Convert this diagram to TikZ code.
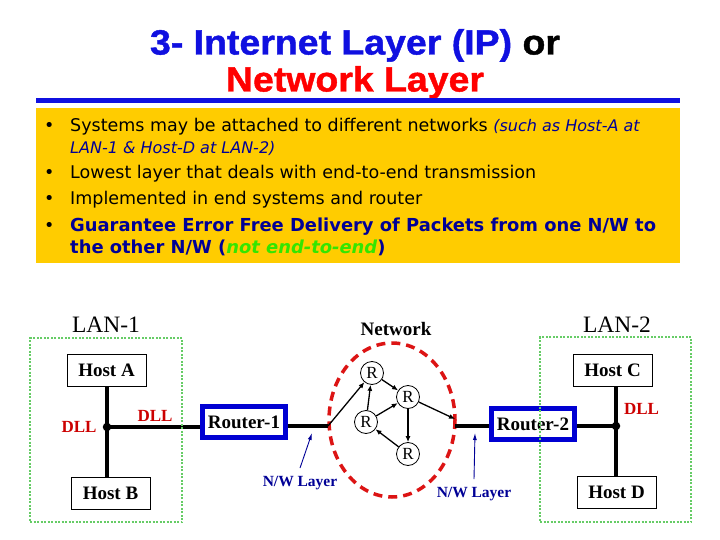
\documentclass[tikz,border=0pt]{standalone}
\usepackage{fontspec}
\setmainfont{Liberation Serif}
\newfontfamily\headfont[FakeBold=1.2, FakeStretch=1.07]{Liberation Sans Bold}
\newfontfamily\slidefont{DejaVu Sans}
\usetikzlibrary{arrows.meta,positioning}

\definecolor{slideyellow}{RGB}{255,204,0}
\definecolor{titleblue}{RGB}{16,16,224}
\definecolor{titlered}{RGB}{255,0,0}
\definecolor{navy}{RGB}{0,0,150}
\definecolor{lime}{RGB}{51,230,0}
\definecolor{dllred}{RGB}{204,0,0}
\definecolor{routerblue}{RGB}{0,0,210}
\definecolor{langreen}{RGB}{102,204,102}
\definecolor{netred}{RGB}{220,20,20}

\begin{document}
\begin{tikzpicture}[
    x=1pt, y=-1pt,
    >=Latex,
    headline/.style={font=\headfont\fontsize{35}{37}\selectfont,
                     anchor=base, inner sep=0pt},
    panel/.style={fill=slideyellow, minimum width=644pt, minimum height=155pt,
                  inner sep=0pt},
    pointtext/.style={font=\slidefont\fontsize{17.5}{22.5}\selectfont,
                      anchor=base west, align=left, inner sep=0pt},
    hostbox/.style={draw, line width=1pt, fill=white, minimum width=79pt,
                    minimum height=32pt, inner sep=0pt,
                    font=\bfseries\fontsize{19}{22}\selectfont},
    routerbox/.style={draw=routerblue, line width=5pt, fill=white,
                      minimum width=83pt, minimum height=31pt, inner sep=0pt,
                      font=\bfseries\fontsize{19}{22}\selectfont},
    rnode/.style={circle, draw, line width=0.8pt, fill=white,
                  minimum size=23pt, inner sep=0pt,
                  font=\fontsize{17}{17}\selectfont},
    junction/.style={circle, fill, minimum size=8.5pt, inner sep=0pt},
    lanbox/.style={draw=langreen, line width=2pt, dash pattern=on 2pt off 1.5pt,
                   inner sep=0pt},
    lanname/.style={font=\fontsize{23.5}{25}\selectfont, inner sep=0pt},
    dll/.style={text=dllred, font=\bfseries\fontsize{17}{19}\selectfont,
                inner sep=0pt},
    nwlabel/.style={text=navy, font=\bfseries\fontsize{15.5}{17}\selectfont,
                    inner xsep=0pt, inner ysep=8pt},
    wire/.style={line width=3.5pt},
    hop/.style={-{Latex[length=6pt,width=5pt]}, line width=1.3pt},
    pointer/.style={-{Latex[length=7pt,width=4pt]}, line width=0.9pt, draw=navy}
]
\useasboundingbox (0,0) rectangle (720,540);

% title
\node[headline, text=titleblue] (title1) at (355,54.5)
    {3- Internet Layer (IP) \textcolor{black}{or}};
\node[headline, text=titlered] (title2) at (355,91.5) {Network Layer};
\draw[titleblue, line width=5pt] (36,100.5) -- (680,100.5);

% yellow panel with the points
\node[panel] (panel) at (358,185.5) {};
\node[pointtext] (dot1) at (44,132) {\textbullet};
\node[pointtext] (dot2) at (44,179) {\textbullet};
\node[pointtext] (dot3) at (44,205) {\textbullet};
\node[pointtext] (dot4) at (44,231) {\textbullet};

% two-line points sit on their last baseline
\node[pointtext] (point1) at (70,154)
    {Systems may be attached to different networks
     {\color{navy}\itshape\fontsize{16}{22.5}\selectfont (such as Host-A at}\\
     {\color{navy}\itshape\fontsize{16}{22.5}\selectfont LAN-1 \& Host-D at LAN-2)}};
\node[pointtext] (point2) at (70,179)
    {Lowest layer that deals with end-to-end transmission};
\node[pointtext] (point3) at (70,205)
    {Implemented in end systems and router};
\node[pointtext, text=navy, font=\slidefont\bfseries\fontsize{17.9}{23}\selectfont] (point4) at (70,254)
    {Guarantee Error Free Delivery of Packets from one N/W to\\
     the other N/W (\textcolor{lime}{\itshape not end-to-end})};

% network cloud
\draw[netred, line width=3.5pt, dash pattern=on 9pt off 6pt] (392,420) ellipse [x radius=63, y radius=77];
\node[font=\bfseries\fontsize{19}{21}\selectfont, inner sep=0pt] (netname) at (396,329) {Network};

\node[rnode] (rt1) at (372,373) {R};
\node[rnode] (rt2) at (408,397) {R};
\node[rnode] (rt3) at (366,422) {R};
\node[rnode] (rt4) at (408,454) {R};
\coordinate (netIn) at (328,426);
\coordinate (netOut) at (455,419);

\draw[hop] (netIn) -- (rt1);
\draw[hop] (rt3) -- (rt1);
\draw[hop] (rt1) -- (rt2);
\draw[hop] (rt3) -- (rt2);
\draw[hop] (rt2) -- (rt4);
\draw[hop] (rt4) -- (rt3);
\draw[hop] (rt2) -- (netOut);

% LAN-1 side
\node[hostbox] (hostA) at (106.5,370) {Host A};
\node[hostbox] (hostB) at (110.5,493) {Host B};
\node[junction] (jA) at (107,427) {};
\node[routerbox] (router1) at (244,422) {Router-1};
\node[dll] (dllA) at (79,427) {DLL};
\node[dll] (dllB) at (155,416) {DLL};

\draw[wire] (jA |- hostA.south) -- (jA |- hostB.north);
\draw[wire] (jA.center) -- (jA -| router1.west);
\draw[wire] (router1.east |- netIn) -- (netIn);

% LAN-2 side
\node[hostbox] (hostC) at (612.5,370) {Host C};
\node[hostbox] (hostD) at (616.5,492) {Host D};
\node[junction] (jB) at (616,426) {};
\node[routerbox] (router2) at (533,424) {Router-2};
\node[dll] (dllC) at (641.5,409) {DLL};

\draw[wire] (jB |- hostC.south) -- (jB |- hostD.north);
\draw[wire] (jB -| router2.east) -- (jB.center);
\draw[wire] (netOut |- jB) -- (jB -| router2.west);

% network layer pointers
\coordinate (tipA) at (312,433);
\coordinate (tipB) at (475,433);
\node[nwlabel] (nwA) at (300,483) {N/W Layer};
\node[nwlabel] (nwB) at (474,494) {N/W Layer};
\draw[pointer] (nwA.north) -- (tipA);
\draw[pointer] (nwB.north) -- (tipB);

% LAN frames
\node[lanbox, minimum width=152pt, minimum height=184pt] (lanA) at (106,430) {};
\node[lanbox, minimum width=151pt, minimum height=185pt] (lanB) at (615.5,429.5) {};
\node[lanname] (lanAname) at (106,325) {LAN-1};
\node[lanname] (lanBname) at (617,325) {LAN-2};

\end{tikzpicture}
\end{document}
